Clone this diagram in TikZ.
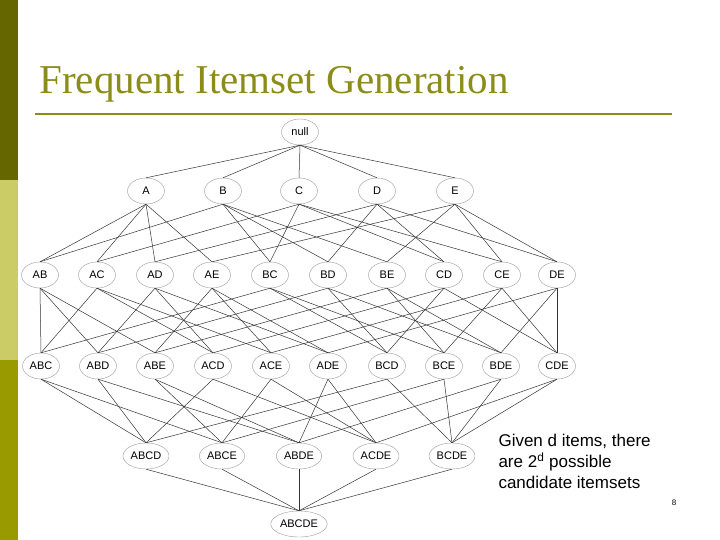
\documentclass[tikz,border=0pt]{standalone}
\usepackage{fontspec}
\setmainfont{Liberation Serif}
\setsansfont{Liberation Sans}
\usetikzlibrary{shapes.geometric}
\definecolor{barDark}{HTML}{666600}
\definecolor{barLight}{HTML}{CCCC66}
\definecolor{barMid}{HTML}{999900}
\definecolor{titleCol}{HTML}{8C8C1A}
\tikzset{
  item/.style={ellipse, draw=black!40, fill=white, minimum width=37pt, minimum height=26pt, inner sep=1pt, font=\sffamily\fontsize{11}{11}\selectfont},
  link/.style={draw=black!80, line width=0.5pt}
}
\begin{document}
\begin{tikzpicture}[x=1pt,y=-1pt]
  \useasboundingbox (0,0) rectangle (720,540);
  \fill[barDark] (0,0) rectangle (18,180);
  \fill[barLight] (0,180) rectangle (18,360);
  \fill[barMid] (0,360) rectangle (18,540);
  \node[anchor=west, text=titleCol, font=\fontsize{41}{41}\selectfont] (title) at (36,84) {Frequent Itemset Generation};
  \draw[titleCol, line width=2pt] (35,114) -- (672,114);
  % lattice nodes
  \node[item] (null) at (300,132) {null};
  \foreach \n/\x in {A/146,B/223,C/299,D/377,E/455}
    \node[item] (\n) at (\x,191) {\n};
  \foreach \n/\x in {AB/40,AC/97,AD/155,AE/212,BC/270,BD/328,BE/387,CD/444,CE/502,DE/557}
    \node[item] (\n) at (\x,275) {\n};
  \foreach \n/\x in {ABC/41,ABD/98,ABE/155,ACD/213,ACE/271,ADE/328,BCD/387,BCE/444,BDE/501,CDE/557}
    \node[item] (\n) at (\x,366) {\n};
  \foreach \n/\x in {ABCD/146,ABCE/222,ABDE/299,ACDE/376,BCDE/452}
    \node[item] (\n) at (\x,456) {\n};
  \node[item] (ABCDE) at (299,524) {ABCDE};
  % links
  \foreach \s in {A,B,C,D,E}
    \draw[link] (null.south) -- (\s.north);
  \foreach \t/\subs in {AB/{A,B},AC/{A,C},AD/{A,D},AE/{A,E},BC/{B,C},BD/{B,D},BE/{B,E},CD/{C,D},CE/{C,E},DE/{D,E},
      ABC/{AB,AC,BC},ABD/{AB,AD,BD},ABE/{AB,AE,BE},ACD/{AC,AD,CD},ACE/{AC,AE,CE},ADE/{AD,AE,DE},BCD/{BC,BD,CD},BCE/{BC,BE,CE},BDE/{BD,BE,DE},CDE/{CD,CE,DE},
      ABCD/{ABC,ABD,ACD,BCD},ABCE/{ABC,ABE,ACE,BCE},ABDE/{ABD,ABE,ADE,BDE},ACDE/{ACD,ACE,ADE,CDE},BCDE/{BCD,BCE,BDE,CDE},
      ABCDE/{ABCD,ABCE,ABDE,ACDE,BCDE}}
    \foreach \s in \subs
      \draw[link] (\s.south) -- (\t.north);
  \node[anchor=north west, align=left, font=\sffamily\fontsize{17}{21}\selectfont] (note) at (495,431)
    {Given d items, there\\are 2\textsuperscript{d} possible\\candidate itemsets};
  \node[font=\sffamily\fontsize{8}{8}\selectfont] (page) at (674,503) {8};
\end{tikzpicture}
\end{document}
